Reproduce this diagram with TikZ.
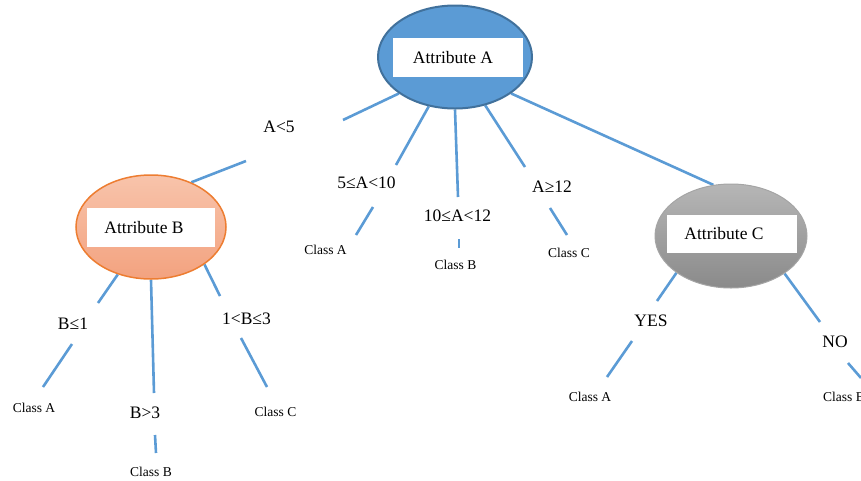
\documentclass[tikz,border=0pt]{standalone}
\usepackage{fontspec}
\setmainfont{Liberation Serif}
\usetikzlibrary{shapes.geometric,backgrounds}
\definecolor{edgeblue}{HTML}{5B9BD5}
\definecolor{afill}{HTML}{5B9BD5}
\definecolor{aborder}{HTML}{41719C}
\definecolor{btop}{HTML}{F8C4AB}
\definecolor{bbottom}{HTML}{F3A27F}
\definecolor{bborder}{HTML}{ED7D31}
\definecolor{ctop}{HTML}{B6B6B6}
\definecolor{cbottom}{HTML}{8A8A8A}
\definecolor{cborder}{HTML}{A5A5A5}
\begin{document}
\begin{tikzpicture}[x=1pt,y=-1pt,
  conn/.style={draw=edgeblue, line width=2.6pt},
  attr/.style={ellipse, inner sep=0pt},
  box/.style={rectangle, fill=white, inner sep=0pt, minimum height=39pt, font=\fontsize{17.5}{20}\selectfont},
  elab/.style={inner sep=0pt, font=\fontsize{17.5}{20}\selectfont},
  cls/.style={inner sep=0pt, font=\fontsize{13.5}{16}\selectfont}]
\useasboundingbox (0,0) rectangle (861,480);

% attribute ellipses
\node[attr, minimum width=154pt, minimum height=103pt, fill=afill, draw=aborder, line width=2pt] (A) at (455,57) {};
\node[box, minimum width=130pt] (Abox) at (458,57.5) {Attribute A\hspace*{10pt}};

\node[attr, minimum width=150pt, minimum height=104pt, top color=btop, bottom color=bbottom, draw=bborder, line width=1.5pt] (B) at (151,227) {};
\node[box, minimum width=128pt] (Bbox) at (151,227.5) {Attribute B\hspace*{14pt}};

\node[attr, minimum width=152pt, minimum height=104pt, top color=ctop, bottom color=cbottom, draw=cborder, line width=1pt] (C) at (731,236) {};
\node[box, minimum width=130pt, minimum height=38pt] (Cbox) at (732,234) {Attribute C\hspace*{16pt}};

% edge labels
\node[elab] (lA5) at (279,127) {A<5};
\node[elab] (lA510) at (366.5,183) {5≤A<10};
\node[elab] (lA1012) at (457.5,216) {10≤A<12};
\node[elab] (lA12) at (552,187) {A≥12};
\node[elab] (lB1) at (73,324) {B≤1};
\node[elab] (lB3) at (145,413) {B>3};
\node[elab] (lB13) at (246.5,319) {1<B≤3};
\node[elab] (lyes) at (651,321) {YES};
\node[elab] (lno) at (835,342) {NO};

% class labels
\node[cls] (k1) at (325.5,250) {Class A};
\node[cls] (k2) at (455.5,265) {Class B};
\node[cls] (k3) at (569,253) {Class C};
\node[cls] (k4) at (34,408) {Class A};
\node[cls] (k5) at (151,472) {Class B};
\node[cls] (k6) at (275.5,412) {Class C};
\node[cls] (k7) at (590,397) {Class A};
\node[cls, anchor=west] (k8) at (823,397) {Class B};

% free ends of the connector segments
\coordinate (a1) at (343,120);
\coordinate (a2) at (246,161);
\coordinate (s510a) at (396,165);
\coordinate (s510b) at (373,207);
\coordinate (s510c) at (356,235);
\coordinate (s1012a) at (458,197);
\coordinate (s1012b) at (459,239);
\coordinate (s1012c) at (459,248);
\coordinate (s12a) at (525,167);
\coordinate (s12b) at (550,208);
\coordinate (s12c) at (567,235);
\coordinate (sb1a) at (98,303);
\coordinate (sb1b) at (72,344);
\coordinate (sb1c) at (43,387);
\coordinate (sb3a) at (154,393);
\coordinate (sb3b) at (155,435);
\coordinate (sb3c) at (156,453);
\coordinate (sb13a) at (220,296);
\coordinate (sb13b) at (241,338);
\coordinate (sb13c) at (267,387);
\coordinate (sya) at (657,301);
\coordinate (syb) at (632,341);
\coordinate (syc) at (607,377);
\coordinate (sna) at (820,322);
\coordinate (snb) at (848,363);
\coordinate (snc) at (861,378);

\begin{pgfonlayer}{background}
\draw[conn] (A.213) -- (a1);
\draw[conn] (a2) -- (B.48);
\draw[conn] (A.242) -- (s510a);
\draw[conn] (s510b) -- (s510c);
\draw[conn] (A.270) -- (s1012a);
\draw[conn] (s1012b) -- (s1012c);
\draw[conn] (A.302) -- (s12a);
\draw[conn] (s12b) -- (s12c);
\draw[conn] (A.327) -- (C.109);
\draw[conn] (B.235) -- (sb1a);
\draw[conn] (sb1b) -- (sb1c);
\draw[conn] (B.270) -- (sb3a);
\draw[conn] (sb3b) -- (sb3c);
\draw[conn] (B.325) -- (sb13a);
\draw[conn] (sb13b) -- (sb13c);
\draw[conn] (C.214) -- (sya);
\draw[conn] (syb) -- (syc);
\draw[conn] (C.325) -- (sna);
\draw[conn] (snb) -- (snc);
\end{pgfonlayer}
\end{tikzpicture}
\end{document}
